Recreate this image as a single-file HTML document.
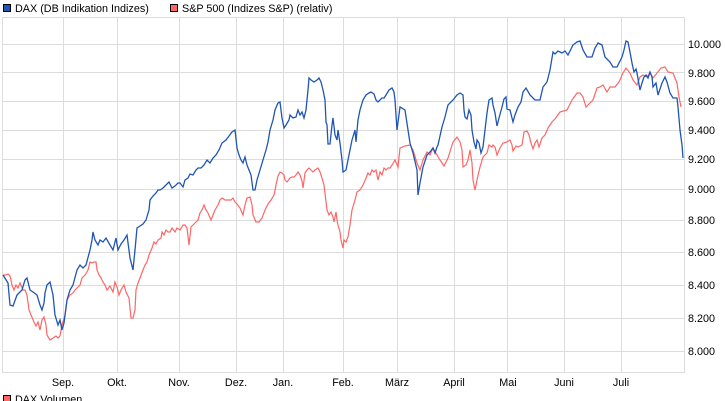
<!DOCTYPE html>
<html><head><meta charset="utf-8"><style>
html,body{margin:0;padding:0;background:#fff;}
svg{display:block;font-family:"Liberation Sans",sans-serif;}
</style></head><body>
<svg width="725" height="401" viewBox="0 0 725 401" xmlns="http://www.w3.org/2000/svg">
<rect x="0" y="0" width="725" height="401" fill="#fff"/>
<g font-size="10.8" fill="#000">
<rect x="3.5" y="4.5" width="7" height="7" fill="#1f55b4" stroke="#000" stroke-width="1"/>
<text x="15" y="12">DAX (DB Indikation Indizes)</text>
<rect x="170.5" y="4.5" width="7" height="7" fill="#ff6666" stroke="#000" stroke-width="1"/>
<text x="182" y="12">S&amp;P 500 (Indizes S&amp;P) (relativ)</text>
</g>
<g stroke="#dcdcdc" stroke-width="1" fill="none">
<line x1="3" y1="17.5" x2="684" y2="17.5"/>
<line x1="3" y1="44.5" x2="684" y2="44.5"/>
<line x1="3" y1="72.5" x2="684" y2="72.5"/>
<line x1="3" y1="101.5" x2="684" y2="101.5"/>
<line x1="3" y1="130.5" x2="684" y2="130.5"/>
<line x1="3" y1="159.5" x2="684" y2="159.5"/>
<line x1="3" y1="189.5" x2="684" y2="189.5"/>
<line x1="3" y1="220.5" x2="684" y2="220.5"/>
<line x1="3" y1="252.5" x2="684" y2="252.5"/>
<line x1="3" y1="285.5" x2="684" y2="285.5"/>
<line x1="3" y1="318.5" x2="684" y2="318.5"/>
<line x1="3" y1="351.5" x2="684" y2="351.5"/>
<line x1="3" y1="372.5" x2="684" y2="372.5"/>
<line x1="2.5" y1="17" x2="2.5" y2="373"/>
<line x1="684.5" y1="17" x2="684.5" y2="373"/>
<line x1="63.5" y1="17" x2="63.5" y2="373"/>
<line x1="117.5" y1="17" x2="117.5" y2="373"/>
<line x1="179.5" y1="17" x2="179.5" y2="373"/>
<line x1="236.5" y1="17" x2="236.5" y2="373"/>
<line x1="283.5" y1="17" x2="283.5" y2="373"/>
<line x1="343.5" y1="17" x2="343.5" y2="373"/>
<line x1="397.5" y1="17" x2="397.5" y2="373"/>
<line x1="454.5" y1="17" x2="454.5" y2="373"/>
<line x1="507.5" y1="17" x2="507.5" y2="373"/>
<line x1="564.5" y1="17" x2="564.5" y2="373"/>
<line x1="621.5" y1="17" x2="621.5" y2="373"/>
</g>
<g font-size="10.8" fill="#000">
<text x="688" y="48">10.000</text>
<text x="688" y="77">9.800</text>
<text x="688" y="105">9.600</text>
<text x="688" y="134">9.400</text>
<text x="688" y="163">9.200</text>
<text x="688" y="193">9.000</text>
<text x="688" y="224">8.800</text>
<text x="688" y="256">8.600</text>
<text x="688" y="289">8.400</text>
<text x="688" y="322">8.200</text>
<text x="688" y="355">8.000</text>
<g text-anchor="middle">
<text x="63" y="386">Sep.</text>
<text x="117" y="386">Okt.</text>
<text x="179" y="386">Nov.</text>
<text x="236" y="386">Dez.</text>
<text x="283" y="386">Jan.</text>
<text x="343" y="386">Feb.</text>
<text x="397" y="386">März</text>
<text x="454" y="386">April</text>
<text x="508" y="386">Mai</text>
<text x="564" y="386">Juni</text>
<text x="621" y="386">Juli</text>
</g>
<rect x="3.5" y="395.5" width="7" height="7" fill="#ff6666" stroke="#000"/>
<text x="15" y="403">DAX Volumen</text>
</g>
<polyline fill="none" stroke="#ff6666" stroke-width="1.2" points="3,275 6,275 8,274 10,276 12,285 14,290 16,285 18,288 20,283 23,290 25,290 27,295 29,310 31,315 34,322 36,326 38,322 40,330 42,320 44,317 46,325 47,335 50,340 53,338 56,336 58,338 60,336 62,325 65,315 67,300 70,295 73,293 75,290 77,288 80,285 82,278 85,275 88,270 90,262 92,263 94,262 96,262 97,270 99,275 101,278 103,282 105,285 107,290 110,286 112,290 113,292 115,282 117,287 119,295 121,290 124,285 126,292 129,298 131,318 133,318 135,310 136,290 138,283 140,278 143,270 145,265 147,262 149,255 152,248 154,242 156,244 158,240 161,238 162,232 164,235 166,230 168,232 170,232 172,228 175,232 177,228 180,230 183,225 185,225 187,228 189,245 191,227 193,225 196,222 198,220 200,213 202,210 204,205 206,210 208,213 211,220 213,215 215,210 218,205 220,200 222,198 225,200 228,200 231,200 233,198 235,202 237,204 240,208 243,215 245,205 247,198 250,197 252,205 253,215 256,222 259,222 262,218 265,210 268,204 271,200 274,195 276,185 278,176 280,172 282,173 284,175 285,180 287,182 290,178 292,177 294,177 296,175 298,172 300,175 302,181 303,188 305,173 307,170 309,168 311,170 313,172 315,170 318,168 320,172 322,178 324,185 327,210 329,215 331,212 333,217 334,222 336,212 337,220 338,225 340,232 341,240 343,248 344,240 346,242 348,237 350,225 352,210 355,200 357,192 360,190 363,185 366,178 368,173 370,175 372,170 374,172 376,170 378,180 380,172 382,175 384,168 386,170 388,168 390,168 392,165 395,160 398,167 400,148 405,146 410,145 413,150 417,163 420,170 423,160 427,152 430,155 433,148 437,155 440,160 444,166 448,158 453,142 457,137 460,142 462,150 463,167 466,165 468,160 470,150 472,163 473,180 475,190 477,180 480,167 483,157 487,153 489,145 492,147 493,145 495,147 497,155 500,148 503,143 507,142 510,140 512,145 513,151 516,146 518,147 522,145 524,132 527,131 529,135 531,143 533,149 535,143 537,140 539,147 542,138 545,135 548,128 552,122 555,119 560,112 567,110 572,100 577,93 580,93 583,97 586,107 590,103 593,100 597,88 600,87 603,85 607,92 610,87 615,87 619,82 623,73 626,68 630,73 633,80 637,85 640,77 643,75 647,77 650,73 653,78 657,73 661,68 665,67 668,72 673,73 675,78 677,83 679,97 681,107"/>
<polyline fill="none" stroke="#1f55b4" stroke-width="1.3" points="3,275 8,283 10,305 13,306 17,295 22,290 25,280 27,278 30,290 33,292 37,295 40,305 42,310 44,303 45,293 47,285 50,282 53,295 55,315 58,325 60,320 62,330 64,323 67,300 70,290 73,285 77,270 80,265 83,268 86,265 90,250 92,240 93,232 95,240 98,245 100,240 103,242 106,238 110,245 113,250 116,238 118,250 121,244 124,240 127,235 130,258 133,270 135,250 137,228 140,226 143,224 146,220 149,210 150,200 153,196 156,193 158,190 160,190 163,188 166,185 169,182 172,188 175,186 178,183 180,183 183,187 185,180 188,178 190,174 193,175 196,170 198,168 201,168 204,165 207,160 210,163 213,158 216,155 219,150 222,143 226,140 229,136 232,132 235,130 237,148 239,155 241,160 243,163 245,157 247,165 249,170 251,175 253,190 255,190 257,180 260,170 263,160 266,150 268,142 270,130 273,120 275,110 278,103 280,102 282,118 284,128 286,125 289,120 290,115 293,118 296,117 298,110 300,115 302,112 304,118 306,110 308,90 309,78 311,80 314,82 317,80 319,78 321,82 323,90 325,100 326,122 327,125 328,144 330,144 332,125 333,118 335,135 337,140 338,130 340,143 342,160 343,172 346,170 349,155 352,140 355,130 356,142 358,120 360,110 363,100 366,95 369,93 371,92 374,94 376,100 378,102 380,100 382,98 384,98 386,95 389,90 392,88 394,92 395,100 397,130 400,107 405,110 408,130 410,143 413,153 417,170 418,195 420,183 423,167 427,155 430,152 433,148 435,153 437,147 438,145 442,127 445,117 448,105 453,100 457,95 460,93 463,95 464,110 465,117 467,119 469,110 471,115 472,130 474,142 476,149 477,140 479,143 481,153 483,147 485,130 487,113 489,100 492,98 493,105 495,113 497,126 499,118 502,107 504,99 506,97 507,109 510,110 513,122 515,115 518,107 521,102 523,92 526,88 530,95 535,100 540,100 543,87 547,82 550,70 553,52 555,54 558,51 562,53 565,51 568,55 573,45 577,42 580,41 583,50 587,57 592,57 595,48 598,43 602,45 605,57 610,62 613,67 617,67 622,57 624,50 626,41 628,42 630,52 632,63 634,72 636,69 637,73 640,90 642,83 644,77 646,75 648,78 650,72 652,77 653,87 656,83 658,95 662,83 665,77 667,82 670,93 673,98 677,98 678,107 680,130 682,145 683,158"/>
</svg>
</body></html>
